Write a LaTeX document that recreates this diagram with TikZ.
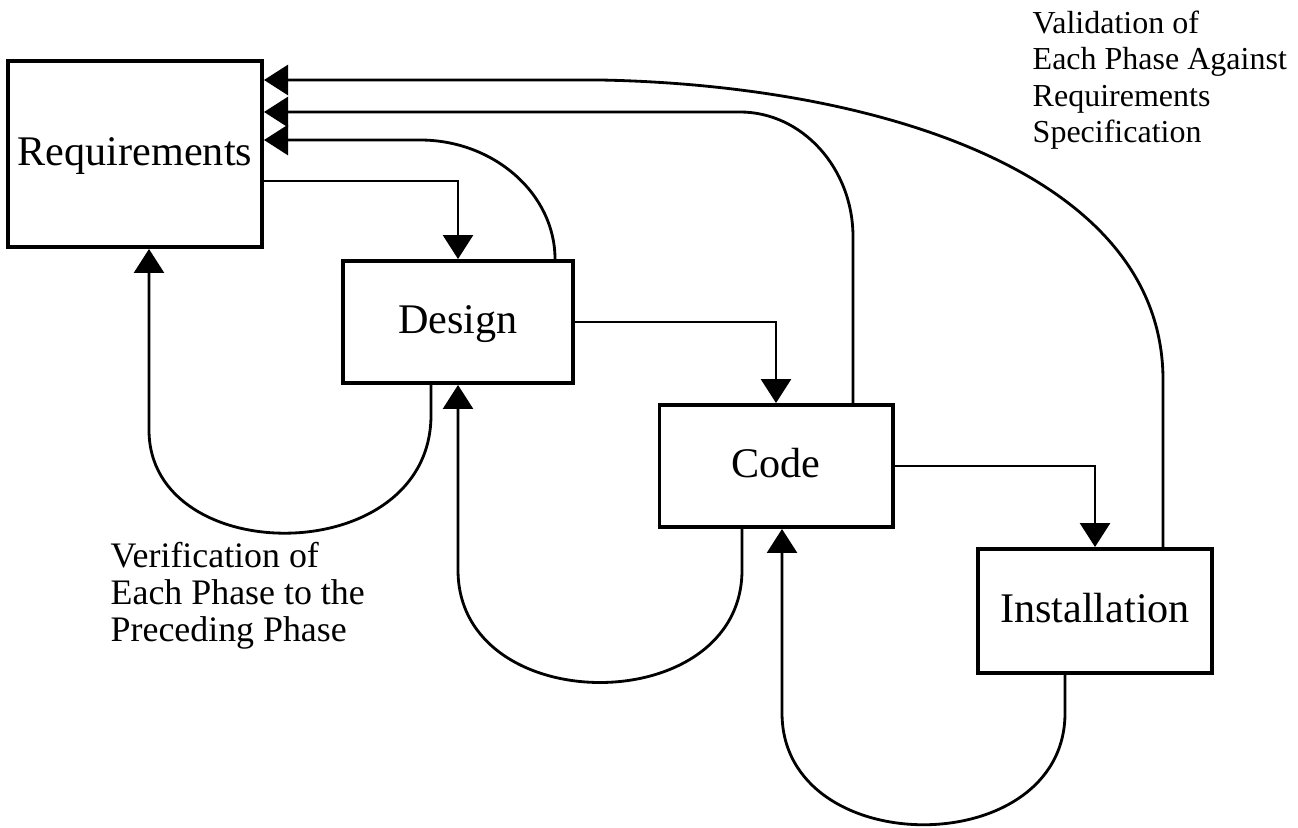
\documentclass[tikz,border=0pt]{standalone}
\usepackage{fontspec}
\setmainfont{Liberation Serif}
\usetikzlibrary{arrows.meta, calc}
\tikzstyle{phase} = [rectangle, draw=black, line width=1.1pt, inner sep=0pt, text height=1.45ex, text depth=0pt, font=\fontsize{12}{14}\selectfont]
\tikzstyle{arrow} = [line width=0.8pt, -{Triangle[length=2.4mm,width=3mm]}]
\tikzstyle{note} = [align=left, inner sep=0pt, anchor=north west]

\begin{document}
\begin{tikzpicture}[x=0.01cm, y=-0.01cm]
\useasboundingbox (0,0) rectangle (1298,828);

% Fasi
\node (req) [phase, minimum width=2.54cm, minimum height=1.86cm] at (135,154) {Requirements};
\node (des) [phase, minimum width=2.30cm, minimum height=1.22cm] at (458,322) {Design};
\node (code) [phase, minimum width=2.33cm, minimum height=1.22cm] at (776,466) {Code};
\node (inst) [phase, minimum width=2.34cm, minimum height=1.24cm] at (1095,611) {Installation};

% Etichette
\node (val) [note, font=\fontsize{9.1}{10.4}\selectfont] at (1032,10) {Validation of\\Each Phase Against\\Requirements\\Specification};
\node (ver) [note, font=\fontsize{10.2}{10.4}\selectfont] at (110,542) {Verification of\\Each Phase to the\\Preceding Phase};

% Sequenza delle fasi
\draw [arrow] ($(req.east)+(0,27)$) -| (des.north);
\draw [arrow] (des.east) -| (code.north);
\draw [arrow] (code.east) -| (inst.north);

% Verifica verso la fase precedente
\draw [arrow] ($(des.south)+(-27,0)$) -- (431,415) .. controls (431,570) and (149,570) .. (149,430) -- ($(req.south)+(14,0)$);
\draw [arrow] ($(code.south)+(-34,0)$) -- (742,570) .. controls (742,720) and (458,720) .. (458,570) -- (des.south);
\draw [arrow] ($(inst.south)+(-30,0)$) -- (1065,713) .. controls (1065,862) and (782,862) .. (782,713) -- ($(code.south)+(6,0)$);

% Validazione rispetto ai requisiti
\draw [arrow] ($(des.north)+(97,0)$) .. controls (555,194) and (494,140) .. (420,140) -- ($(req.east)+(0,-14)$);
\draw [arrow] ($(code.north)+(77,0)$) -- (853,237) .. controls (853,168) and (802,112) .. (740,112) -- ($(req.east)+(0,-42)$);
\draw [arrow] ($(inst.north)+(68,0)$) -- (1163,380) .. controls (1163,170) and (870,85) .. (600,80) -- ($(req.east)+(0,-74)$);

\end{tikzpicture}
\end{document}
